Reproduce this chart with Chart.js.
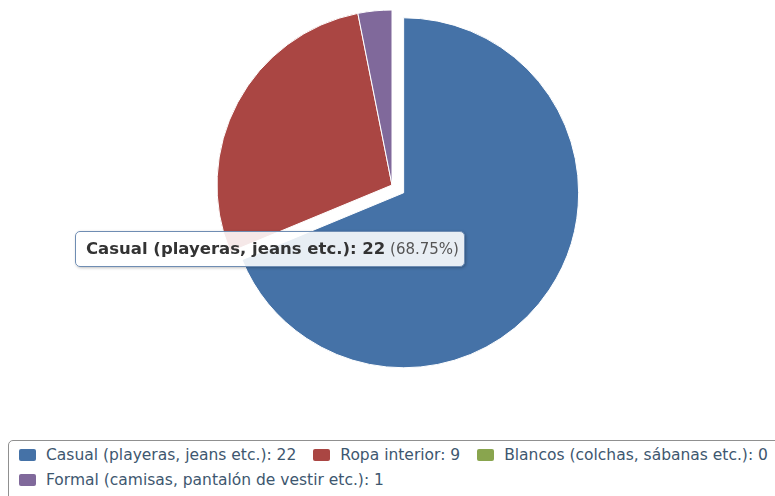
<!DOCTYPE html>
<html>
<head>
<meta charset="utf-8">
<script src="https://cdn.jsdelivr.net/npm/chart.js@4.4.1/dist/chart.umd.min.js"></script>
<style>
    body { margin: 0; background: #fff; }
    #wrap { position: relative; width: 775px; height: 496px; overflow: hidden; font-family: "DejaVu Sans", Verdana, sans-serif; }
    #pie { position: absolute; left: 0; top: 0; }
    #tip {
        position: absolute; left: 75px; top: 231px; height: 36px; width: 390px;
        box-sizing: border-box; padding: 0 0 0 10px; line-height: 34px; white-space: nowrap;
        background: rgba(255, 255, 255, 0.88); border: 1.5px solid #6f8db3; border-radius: 5px;
        box-shadow: 1px 1px 3px rgba(0, 0, 0, 0.25); color: #333;
    }
    #tip b { font-size: 16.5px; }
    #tip span { font-size: 15px; color: #555; }
    #legend {
        position: absolute; left: 8px; top: 440px; width: 800px; height: 80px;
        box-sizing: border-box; border: 1px solid #909090; border-radius: 5px;
        padding: 2px 0 0 10px;
    }
    .item { float: left; height: 25px; line-height: 25px; margin-right: 17px; font-size: 15.5px; color: #3e576f; white-space: nowrap; }
    .item.wrap { clear: left; }
    .swatch { display: inline-block; width: 17px; height: 12px; border-radius: 2px; margin-right: 10px; vertical-align: -1px; }
</style>
</head>
<body>
<div id="wrap">
    <canvas id="pie" width="775" height="430"></canvas>
    <div id="tip"></div>
    <div id="legend"></div>
</div>
<script>
const categories = [
    "Casual (playeras, jeans etc.)",
    "Ropa interior",
    "Blancos (colchas, sábanas etc.)",
    "Formal (camisas, pantalón de vestir etc.)"
];
const answers = [22, 9, 0, 1];
const sliceColors = ["#4572a7", "#aa4643", "#89a54e", "#80699b"];
// pixels each slice is pulled out from the centre
const pulledOut = [14, 0, 0, 0];

// chart.js grows big slices instead of moving them, so shift the arc centre ourselves
const explode = {
    id: "explode",
    afterDatasetUpdate(chart, args) {
        args.meta.data.forEach((arc, i) => {
            const dist = pulledOut[i];
            if (!dist) return;
            const mid = (arc.startAngle + arc.endAngle) / 2;
            arc.x += Math.cos(mid) * dist;
            arc.y += Math.sin(mid) * dist;
        });
    }
};

const chart = new Chart(document.getElementById("pie").getContext("2d"), {
    type: "pie",
    data: {
        labels: categories,
        datasets: [{
            data: answers,
            backgroundColor: sliceColors,
            borderColor: "#ffffff",
            borderWidth: 1,
            hoverOffset: 0
        }]
    },
    options: {
        responsive: false,
        animation: false,
        radius: 175,
        layout: { padding: { left: 192, right: 183, top: 0, bottom: 60 } },
        plugins: {
            legend: { display: false },
            tooltip: { enabled: false }
        }
    },
    plugins: [explode]
});

// legend with counts, built from the chart's own labels
const legend = document.getElementById("legend");
chart.data.labels.forEach((label, i) => {
    const item = document.createElement("div");
    item.className = "item" + (i == 3 ? " wrap" : "");
    const swatch = document.createElement("span");
    swatch.className = "swatch";
    swatch.style.background = sliceColors[i];
    item.appendChild(swatch);
    item.appendChild(document.createTextNode(`${label}: ${answers[i]}`));
    legend.appendChild(item);
});

// hover box for the biggest slice
const total = answers.reduce((sum, n) => sum + n, 0);
const tip = document.getElementById("tip");
const bold = document.createElement("b");
bold.innerText = `${categories[0]}: ${answers[0]}`;
const pct = document.createElement("span");
pct.innerText = ` (${(answers[0] / total * 100).toFixed(2)}%)`;
tip.appendChild(bold);
tip.appendChild(pct);
</script>
</body>
</html>
